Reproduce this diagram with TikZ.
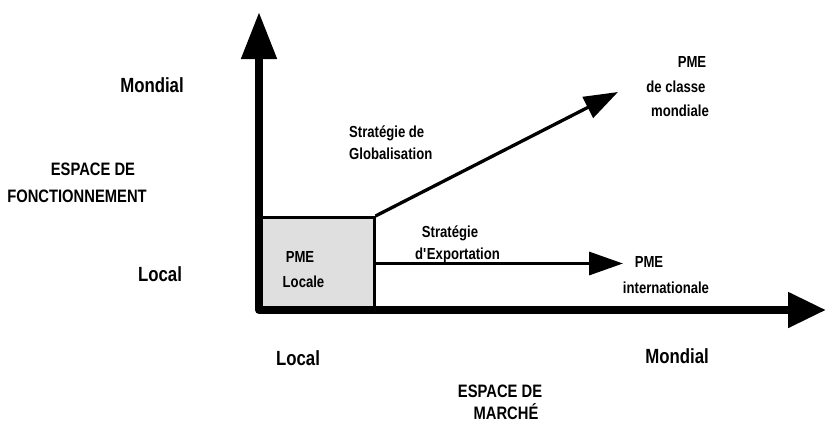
\documentclass[tikz,border=0pt]{standalone}
\usepackage{fontspec}
\newfontfamily\lbl{Liberation Sans}[FakeStretch=0.82]
\usetikzlibrary{arrows.meta}
\begin{document}
\begin{tikzpicture}[x=1pt,y=-1pt,
  lblbig/.style={font=\lbl\bfseries\fontsize{20.5}{24}\selectfont, inner sep=0pt},
  lblmed/.style={font=\lbl\bfseries\fontsize{18}{21}\selectfont, inner sep=0pt},
  lblsmall/.style={font=\lbl\bfseries\fontsize{16}{19}\selectfont, inner sep=0pt},
  axisline/.style={line width=8pt, line join=round, line cap=round},
  flowarrow/.style={line width=3.3pt, -{Triangle[length=34pt,width=23pt]}},
  pmebox/.style={draw, line width=3pt, fill=gray!25, minimum width=114.5pt, minimum height=92pt, inner sep=0pt}]
\useasboundingbox (0,0) rectangle (826,423);
% box
\node[pmebox, anchor=south west] (box) at (258,311) {};
% axes
\coordinate (ytip) at (259,12);
\coordinate (corner) at (259,310);
\coordinate (xtip) at (826,310);
\draw[axisline, {Triangle[length=47pt,width=34pt]}-{Triangle[length=38pt,width=34pt]}] (ytip) -- (corner) -- (xtip);
% strategies
\coordinate (globtip) at (618,92);
\coordinate (exptip) at (623,264);
\draw[flowarrow] (box.north east) -- (globtip);
\draw[flowarrow] (box.east) -- (box.east -| exptip);
% labels
\node[lblbig, anchor=base] (mondialY) at (152,92) {Mondial};
\node[lblmed, anchor=base] (espaceA) at (93,175) {ESPACE DE};
\node[lblmed, anchor=base] (espaceB) at (77,202) {FONCTIONNEMENT};
\node[lblbig, anchor=base] (localY) at (160,281) {Local};
\node[lblbig, anchor=base] (localX) at (298,365) {Local};
\node[lblbig, anchor=base] (mondialX) at (677,363) {Mondial};
\node[lblmed, anchor=base] (espaceC) at (500,397) {ESPACE DE};
\node[lblmed, anchor=base] (marche) at (506,419) {MARCHÉ};
\node[lblsmall, anchor=base west] (stratA) at (349,137) {Stratégie de};
\node[lblsmall, anchor=base west] (stratB) at (349,159) {Globalisation};
\node[lblsmall, anchor=base] (stratC) at (450,237) {Stratégie};
\node[lblsmall, anchor=base] (stratD) at (457.5,259) {d\textquotesingle Exportation};
\node[lblsmall, anchor=base] (pmeL) at (300,262) {PME};
\node[lblsmall, anchor=base] (locale) at (303.5,287) {Locale};
\node[lblsmall, anchor=base] (pmeW) at (692,67) {PME};
\node[lblsmall, anchor=base] (classe) at (676,92) {de classe};
\node[lblsmall, anchor=base] (mondiale) at (680,116) {mondiale};
\node[lblsmall, anchor=base] (pmeI) at (649,267) {PME};
\node[lblsmall, anchor=base] (inter) at (666,293) {internationale};
\end{tikzpicture}
\end{document}
